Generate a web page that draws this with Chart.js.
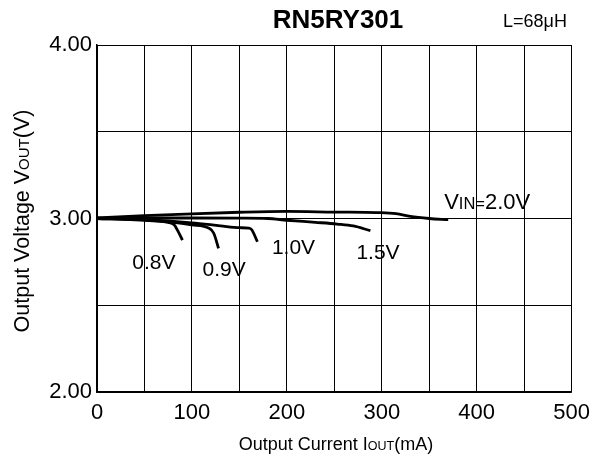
<!DOCTYPE html>
<html>
<head>
<meta charset="utf-8">
<script src="https://cdn.jsdelivr.net/npm/chart.js@4"></script>
<style>html,body{margin:0;padding:0;background:#fff}</style>
</head>
<body>
<div style="width:598px;height:460px"><canvas id="chart" width="598" height="460"></canvas></div>
<script>
// curves (IOUT in mA, VOUT in V)
const iout08 = [0, 30, 55, 75, 81, 85, 90];
const vout08 = [3.002, 2.997, 2.99, 2.978, 2.965, 2.93, 2.876];

const iout09 = [0, 40, 76, 100, 118, 123, 128];
const vout09 = [3.0, 2.992, 2.98, 2.963, 2.944, 2.915, 2.828];

const iout10 = [0, 50, 100, 130, 150, 160, 163, 169];
const vout10 = [3.0, 2.993, 2.975, 2.958, 2.947, 2.945, 2.935, 2.866];

const iout15 = [0, 50, 100, 150, 180, 200, 230, 253, 270, 288];
const vout15 = [3.002, 3.003, 3.003, 3.002, 3.0, 2.99, 2.978, 2.968, 2.957, 2.93];

const iout20 = [0, 50, 100, 150, 200, 250, 295, 315, 330, 350, 370];
const vout20 = [3.003, 3.016, 3.027, 3.036, 3.041, 3.037, 3.034, 3.028, 3.012, 3.0, 2.993];

const xTicks = [0, 100, 200, 300, 400, 500];
const yTicks = [2.0, 3.0, 4.0];

// curve labels: [text parts, x, y]
const curveLabels = [
  [[["0.8V", 21]], 60, 2.755],
  [[["0.9V", 21]], 134, 2.709],
  [[["1.0V", 21]], 207, 2.836],
  [[["1.5V", 21]], 296, 2.807],
  [[["V", 22], ["IN=", 16.5], ["2.0V", 22]], 411, 3.10]
];

const FONT = "'Liberation Sans', Arial, sans-serif";

function pts(xs, ys) {
  return xs.map((x, i) => ({ x: x, y: ys[i] }));
}

function curve(xs, ys) {
  return {
    data: pts(xs, ys),
    borderColor: "#000",
    borderWidth: 2.8,
    pointRadius: 0,
    fill: false,
    cubicInterpolationMode: "monotone"
  };
}

// draws text made of pieces with different sizes, centred on cx
function drawParts(ctx, parts, cx, baseY, weight) {
  let total = 0;
  parts.forEach(p => {
    ctx.font = (weight || "normal") + " " + p[1] + "px " + FONT;
    total += ctx.measureText(p[0]).width;
  });
  let x = cx - total / 2;
  parts.forEach(p => {
    ctx.font = (weight || "normal") + " " + p[1] + "px " + FONT;
    ctx.fillText(p[0], x, baseY);
    x += ctx.measureText(p[0]).width;
  });
}

const textPlugin = {
  id: "texts",
  afterDraw(chart) {
    const ctx = chart.ctx;
    const xs = chart.scales.x, ys = chart.scales.y;
    ctx.save();
    ctx.fillStyle = "#000";
    ctx.textAlign = "left";
    ctx.textBaseline = "alphabetic";

    // title + inductor note
    drawParts(ctx, [["RN5RY301", 26]], 338, 28, "bold");
    drawParts(ctx, [["L=68μH", 18]], 535, 27);

    // axis titles
    drawParts(ctx, [["Output Current I", 18], ["OUT", 12.5], ["(mA)", 18]], 336, 450);
    ctx.save();
    ctx.translate(29, 221);
    ctx.rotate(-Math.PI / 2);
    drawParts(ctx, [["Output Voltage V", 21.5], ["OUT", 15], ["(V)", 21.5]], 0, 0);
    ctx.restore();

    // curve labels
    curveLabels.forEach(l => {
      drawParts(ctx, l[0], xs.getPixelForValue(l[1]), ys.getPixelForValue(l[2]) + 7.5);
    });
    ctx.restore();
  }
};

new Chart(document.getElementById("chart"), {
  type: "line",
  data: {
    datasets: [
      curve(iout08, vout08),
      curve(iout09, vout09),
      curve(iout10, vout10),
      curve(iout15, vout15),
      curve(iout20, vout20)
    ]
  },
  options: {
    responsive: false,
    animation: false,
    devicePixelRatio: 1,
    layout: { padding: { top: 45, right: 21, bottom: 0, left: 0 } },
    plugins: { legend: { display: false }, tooltip: { enabled: false } },
    scales: {
      x: {
        type: "linear",
        min: 0,
        max: 500,
        afterFit: s => { s.height = 68; },
        grid: { color: "#000", lineWidth: 1, drawTicks: false },
        border: { color: "#000", width: 1.5 },
        ticks: {
          stepSize: 50,
          padding: 8,
          color: "#000",
          maxRotation: 0,
          autoSkip: false,
          font: { family: FONT, size: 22 },
          callback: v => xTicks.includes(v) ? String(v) : ""
        }
      },
      y: {
        min: 2,
        max: 4,
        afterFit: s => { s.width = 97; },
        grid: { color: "#000", lineWidth: 1, drawTicks: false },
        border: { color: "#000", width: 1.5 },
        ticks: {
          stepSize: 0.5,
          padding: 5,
          color: "#000",
          autoSkip: false,
          font: { family: FONT, size: 22 },
          callback: v => yTicks.includes(v) ? v.toFixed(2) : ""
        }
      }
    }
  },
  plugins: [textPlugin]
});
</script>
</body>
</html>
